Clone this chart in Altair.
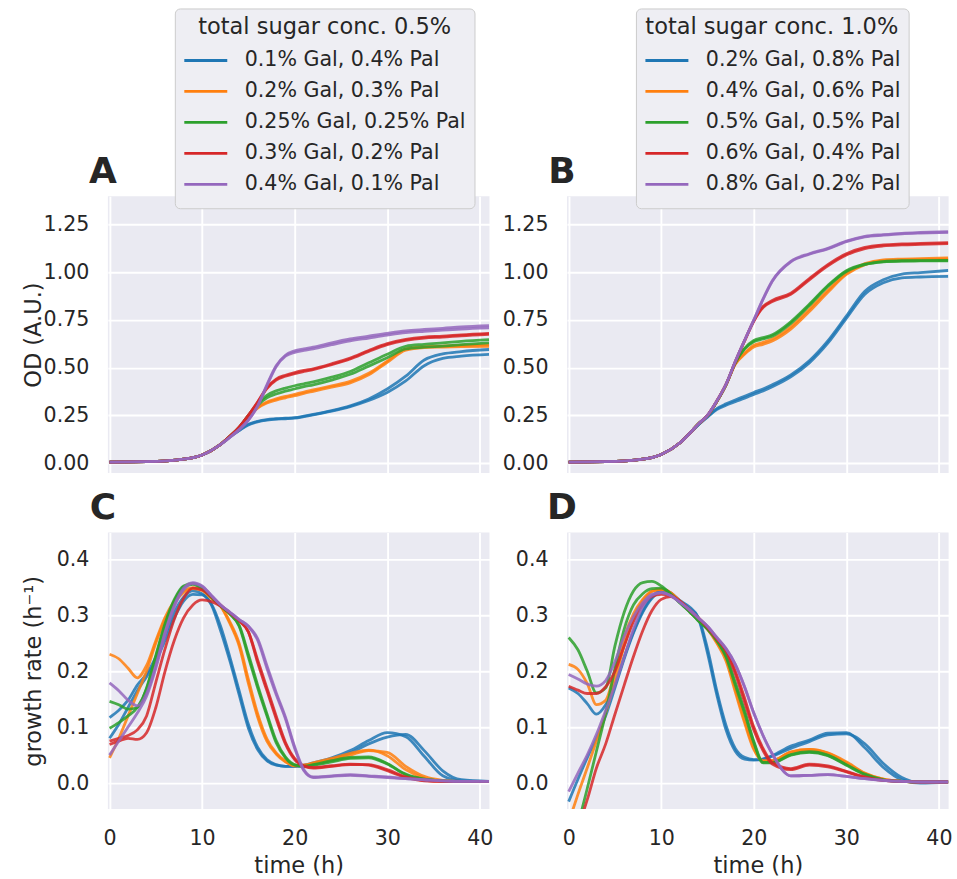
import altair as alt
import pandas as pd

# ---- sampling grids (hours) ----
T_OD = [0, 4, 8, 10, 12, 13, 14, 15, 16, 17, 18, 19, 20, 21, 22, 24, 26, 28, 30, 32, 34, 36, 38, 41]
T_GR = [0, 1, 2, 3, 4, 5, 6, 7, 8, 9, 10, 11, 12, 13, 14, 15, 16, 17, 18, 19, 20, 21, 22,
        24, 26, 28, 30, 32, 34, 36, 38, 41]

LABELS_05 = ["0.1% Gal, 0.4% Pal", "0.2% Gal, 0.3% Pal", "0.25% Gal, 0.25% Pal",
             "0.3% Gal, 0.2% Pal", "0.4% Gal, 0.1% Pal"]
LABELS_10 = ["0.2% Gal, 0.8% Pal", "0.4% Gal, 0.6% Pal", "0.5% Gal, 0.5% Pal",
             "0.6% Gal, 0.4% Pal", "0.8% Gal, 0.2% Pal"]
PALETTE = ["#1f77b4", "#ff7f0e", "#2ca02c", "#d62728", "#9467bd"]

# ---- OD, total sugar 0.5% (two replicates per mixture) ----
od05_a1 = [0.005, 0.007, 0.02, 0.042, 0.098, 0.138, 0.172, 0.203, 0.219, 0.228, 0.232, 0.235, 0.238, 0.246, 0.255, 0.275, 0.3, 0.336, 0.388, 0.455, 0.54, 0.572, 0.584, 0.595]
od05_a2 = [0.005, 0.007, 0.02, 0.042, 0.098, 0.137, 0.17, 0.2, 0.216, 0.225, 0.23, 0.232, 0.235, 0.243, 0.252, 0.272, 0.296, 0.328, 0.37, 0.43, 0.51, 0.548, 0.56, 0.569]
od05_b1 = [0.005, 0.007, 0.02, 0.042, 0.098, 0.14, 0.185, 0.245, 0.292, 0.32, 0.336, 0.349, 0.36, 0.372, 0.383, 0.405, 0.428, 0.47, 0.534, 0.598, 0.61, 0.613, 0.616, 0.62]
od05_b2 = [0.005, 0.007, 0.02, 0.042, 0.098, 0.14, 0.185, 0.243, 0.288, 0.315, 0.33, 0.342, 0.353, 0.365, 0.376, 0.398, 0.42, 0.462, 0.528, 0.592, 0.605, 0.608, 0.61, 0.612]
od05_c1 = [0.005, 0.007, 0.02, 0.042, 0.098, 0.14, 0.186, 0.25, 0.31, 0.355, 0.378, 0.393, 0.405, 0.415, 0.425, 0.45, 0.48, 0.525, 0.57, 0.612, 0.622, 0.63, 0.638, 0.647]
od05_c2 = [0.005, 0.007, 0.02, 0.042, 0.098, 0.14, 0.186, 0.248, 0.303, 0.342, 0.362, 0.377, 0.388, 0.4, 0.41, 0.435, 0.465, 0.508, 0.552, 0.598, 0.607, 0.613, 0.62, 0.63]
od05_d1 = [0.005, 0.007, 0.02, 0.042, 0.098, 0.14, 0.188, 0.25, 0.32, 0.395, 0.44, 0.46, 0.474, 0.485, 0.494, 0.52, 0.55, 0.59, 0.626, 0.648, 0.66, 0.665, 0.672, 0.68]
od05_d2 = [0.005, 0.007, 0.02, 0.042, 0.098, 0.14, 0.188, 0.25, 0.318, 0.39, 0.435, 0.455, 0.469, 0.48, 0.49, 0.515, 0.545, 0.585, 0.621, 0.643, 0.655, 0.66, 0.667, 0.675]
od05_e1 = [0.005, 0.007, 0.02, 0.042, 0.098, 0.135, 0.175, 0.225, 0.3, 0.41, 0.51, 0.565, 0.588, 0.598, 0.607, 0.63, 0.65, 0.665, 0.68, 0.693, 0.7, 0.706, 0.713, 0.72]
od05_e2 = [0.005, 0.007, 0.02, 0.042, 0.098, 0.135, 0.175, 0.225, 0.298, 0.405, 0.505, 0.56, 0.58, 0.59, 0.598, 0.62, 0.64, 0.655, 0.67, 0.683, 0.69, 0.696, 0.702, 0.708]

# ---- OD, total sugar 1.0% ----
od10_a1 = [0.005, 0.007, 0.02, 0.045, 0.105, 0.152, 0.2, 0.243, 0.285, 0.31, 0.33, 0.35, 0.37, 0.388, 0.41, 0.462, 0.536, 0.64, 0.77, 0.9, 0.96, 0.99, 0.998, 1.009]
od10_a2 = [0.005, 0.007, 0.02, 0.045, 0.105, 0.152, 0.2, 0.24, 0.28, 0.303, 0.322, 0.34, 0.36, 0.378, 0.4, 0.452, 0.525, 0.628, 0.758, 0.885, 0.945, 0.97, 0.975, 0.978]
od10_b1 = [0.005, 0.007, 0.02, 0.045, 0.105, 0.152, 0.204, 0.248, 0.322, 0.41, 0.52, 0.575, 0.617, 0.632, 0.65, 0.714, 0.806, 0.905, 0.994, 1.045, 1.065, 1.069, 1.071, 1.075]
od10_b2 = [0.005, 0.007, 0.02, 0.045, 0.105, 0.152, 0.204, 0.248, 0.322, 0.41, 0.518, 0.57, 0.608, 0.622, 0.64, 0.702, 0.794, 0.895, 0.988, 1.04, 1.06, 1.064, 1.066, 1.069]
od10_c1 = [0.005, 0.007, 0.02, 0.045, 0.105, 0.152, 0.204, 0.248, 0.322, 0.41, 0.525, 0.6, 0.642, 0.657, 0.672, 0.74, 0.832, 0.93, 1.008, 1.042, 1.056, 1.06, 1.061, 1.062]
od10_c2 = [0.005, 0.007, 0.02, 0.045, 0.105, 0.152, 0.204, 0.248, 0.322, 0.41, 0.525, 0.598, 0.636, 0.65, 0.665, 0.732, 0.825, 0.925, 1.004, 1.04, 1.054, 1.058, 1.059, 1.06]
od10_d1 = [0.005, 0.007, 0.02, 0.045, 0.105, 0.152, 0.204, 0.25, 0.324, 0.412, 0.53, 0.64, 0.745, 0.82, 0.852, 0.89, 0.967, 1.04, 1.097, 1.13, 1.143, 1.148, 1.151, 1.155]
od10_d2 = [0.005, 0.007, 0.02, 0.045, 0.105, 0.152, 0.204, 0.25, 0.324, 0.412, 0.53, 0.64, 0.743, 0.815, 0.846, 0.884, 0.96, 1.033, 1.09, 1.124, 1.138, 1.143, 1.146, 1.15]
od10_e1 = [0.005, 0.007, 0.02, 0.045, 0.105, 0.152, 0.204, 0.25, 0.325, 0.413, 0.532, 0.642, 0.75, 0.86, 0.955, 1.057, 1.097, 1.125, 1.163, 1.188, 1.197, 1.204, 1.208, 1.212]
od10_e2 = [0.005, 0.007, 0.02, 0.045, 0.105, 0.152, 0.204, 0.25, 0.325, 0.413, 0.532, 0.642, 0.748, 0.857, 0.952, 1.054, 1.094, 1.122, 1.16, 1.185, 1.194, 1.201, 1.205, 1.209]

# ---- growth rate, total sugar 0.5% ----
gr05_a1 = [0.117, 0.13, 0.148, 0.175, 0.195, 0.225, 0.265, 0.305, 0.332, 0.343, 0.338, 0.318, 0.272, 0.218, 0.158, 0.098, 0.06, 0.04, 0.032, 0.03, 0.03, 0.032, 0.036, 0.045, 0.058, 0.076, 0.09, 0.083, 0.048, 0.013, 0.004, 0.003]
gr05_a2 = [0.08, 0.105, 0.135, 0.165, 0.19, 0.218, 0.255, 0.295, 0.325, 0.337, 0.336, 0.32, 0.28, 0.225, 0.165, 0.105, 0.064, 0.042, 0.033, 0.03, 0.03, 0.031, 0.035, 0.042, 0.054, 0.07, 0.082, 0.087, 0.058, 0.022, 0.006, 0.003]
gr05_b1 = [0.23, 0.222, 0.205, 0.188, 0.21, 0.254, 0.296, 0.325, 0.343, 0.349, 0.345, 0.33, 0.316, 0.285, 0.245, 0.178, 0.118, 0.075, 0.052, 0.038, 0.031, 0.032, 0.036, 0.044, 0.053, 0.059, 0.049, 0.024, 0.009, 0.004, 0.003, 0.003]
gr05_b2 = [0.045, 0.08, 0.12, 0.16, 0.2, 0.25, 0.292, 0.322, 0.34, 0.347, 0.344, 0.33, 0.316, 0.288, 0.25, 0.185, 0.124, 0.079, 0.054, 0.039, 0.031, 0.032, 0.035, 0.042, 0.05, 0.058, 0.055, 0.03, 0.012, 0.005, 0.003, 0.003]
gr05_c1 = [0.146, 0.14, 0.132, 0.135, 0.17, 0.228, 0.285, 0.328, 0.352, 0.356, 0.348, 0.332, 0.316, 0.302, 0.28, 0.225, 0.17, 0.12, 0.072, 0.045, 0.032, 0.03, 0.033, 0.04, 0.046, 0.047, 0.035, 0.016, 0.007, 0.004, 0.003, 0.003]
gr05_c2 = [0.098, 0.108, 0.12, 0.135, 0.168, 0.225, 0.282, 0.325, 0.35, 0.355, 0.347, 0.332, 0.316, 0.302, 0.282, 0.23, 0.175, 0.124, 0.076, 0.047, 0.033, 0.03, 0.032, 0.038, 0.044, 0.045, 0.034, 0.015, 0.007, 0.004, 0.003, 0.003]
gr05_d1 = [0.075, 0.08, 0.085, 0.095, 0.12, 0.18, 0.24, 0.293, 0.33, 0.348, 0.345, 0.333, 0.318, 0.304, 0.29, 0.27, 0.215, 0.165, 0.115, 0.07, 0.042, 0.03, 0.027, 0.03, 0.033, 0.033, 0.024, 0.011, 0.005, 0.003, 0.003, 0.003]
gr05_d2 = [0.069, 0.075, 0.08, 0.078, 0.09, 0.135, 0.2, 0.255, 0.295, 0.318, 0.327, 0.324, 0.316, 0.304, 0.29, 0.27, 0.22, 0.17, 0.12, 0.073, 0.044, 0.031, 0.028, 0.031, 0.034, 0.032, 0.022, 0.01, 0.004, 0.003, 0.003, 0.003]
gr05_e1 = [0.179, 0.165, 0.148, 0.138, 0.16, 0.21, 0.27, 0.318, 0.348, 0.358, 0.352, 0.335, 0.318, 0.305, 0.292, 0.28, 0.255, 0.205, 0.158, 0.115, 0.062, 0.022, 0.01, 0.012, 0.014, 0.012, 0.01, 0.008, 0.006, 0.004, 0.003, 0.003]
gr05_e2 = [0.05, 0.075, 0.1, 0.125, 0.155, 0.205, 0.265, 0.315, 0.345, 0.356, 0.351, 0.335, 0.318, 0.305, 0.292, 0.28, 0.258, 0.21, 0.162, 0.118, 0.065, 0.024, 0.011, 0.013, 0.015, 0.013, 0.011, 0.008, 0.006, 0.004, 0.003, 0.003]

# ---- growth rate, total sugar 1.0% ----
gr10_a1 = [0.17, 0.16, 0.142, 0.123, 0.14, 0.175, 0.225, 0.27, 0.307, 0.332, 0.345, 0.34, 0.326, 0.315, 0.295, 0.232, 0.158, 0.095, 0.057, 0.043, 0.041, 0.043, 0.049, 0.066, 0.077, 0.089, 0.09, 0.063, 0.028, 0.006, 0.0, 0.002]
gr10_a2 = [-0.033, 0.007, 0.045, 0.08, 0.12, 0.17, 0.222, 0.268, 0.305, 0.33, 0.342, 0.338, 0.325, 0.312, 0.296, 0.24, 0.165, 0.103, 0.062, 0.046, 0.042, 0.043, 0.048, 0.062, 0.074, 0.086, 0.088, 0.07, 0.035, 0.01, 0.001, 0.003]
gr10_b1 = [0.212, 0.203, 0.178, 0.14, 0.148, 0.2, 0.26, 0.302, 0.328, 0.343, 0.346, 0.34, 0.325, 0.31, 0.292, 0.275, 0.252, 0.222, 0.168, 0.113, 0.063, 0.04, 0.04, 0.056, 0.06, 0.053, 0.036, 0.017, 0.007, 0.003, 0.002, 0.002]
gr10_b2 = [-0.07, -0.02, 0.027, 0.075, 0.125, 0.185, 0.245, 0.295, 0.325, 0.342, 0.346, 0.34, 0.325, 0.31, 0.292, 0.275, 0.25, 0.218, 0.163, 0.108, 0.06, 0.039, 0.04, 0.055, 0.06, 0.054, 0.038, 0.018, 0.007, 0.003, 0.002, 0.002]
gr10_c1 = [0.26, 0.238, 0.2, 0.161, 0.17, 0.245, 0.305, 0.343, 0.358, 0.36, 0.352, 0.338, 0.322, 0.307, 0.29, 0.275, 0.255, 0.228, 0.18, 0.13, 0.075, 0.037, 0.037, 0.051, 0.056, 0.05, 0.033, 0.016, 0.006, 0.003, 0.002, 0.002]
gr10_c2 = [-0.14, -0.075, -0.01, 0.057, 0.125, 0.205, 0.275, 0.318, 0.338, 0.347, 0.348, 0.338, 0.322, 0.307, 0.29, 0.275, 0.254, 0.225, 0.175, 0.125, 0.072, 0.036, 0.036, 0.05, 0.055, 0.049, 0.032, 0.015, 0.006, 0.003, 0.002, 0.002]
gr10_d1 = [0.173, 0.166, 0.16, 0.16, 0.172, 0.2, 0.245, 0.288, 0.318, 0.333, 0.337, 0.335, 0.325, 0.31, 0.295, 0.278, 0.258, 0.238, 0.2, 0.152, 0.1, 0.062, 0.037, 0.026, 0.034, 0.031, 0.021, 0.011, 0.005, 0.003, 0.002, 0.002]
gr10_d2 = [-0.13, -0.08, -0.03, 0.027, 0.07, 0.123, 0.175, 0.226, 0.272, 0.308, 0.328, 0.333, 0.325, 0.31, 0.295, 0.278, 0.258, 0.236, 0.195, 0.145, 0.095, 0.058, 0.034, 0.024, 0.032, 0.029, 0.02, 0.01, 0.005, 0.003, 0.002, 0.002]
gr10_e1 = [0.194, 0.186, 0.177, 0.173, 0.183, 0.217, 0.262, 0.297, 0.322, 0.337, 0.34, 0.335, 0.323, 0.31, 0.295, 0.28, 0.26, 0.24, 0.212, 0.172, 0.125, 0.085, 0.052, 0.013, 0.014, 0.015, 0.012, 0.008, 0.005, 0.003, 0.002, 0.002]
gr10_e2 = [-0.015, 0.018, 0.05, 0.087, 0.13, 0.175, 0.225, 0.275, 0.315, 0.335, 0.34, 0.335, 0.323, 0.31, 0.295, 0.28, 0.26, 0.24, 0.212, 0.172, 0.125, 0.085, 0.052, 0.013, 0.014, 0.015, 0.012, 0.008, 0.005, 0.003, 0.002, 0.002]

OD05 = [(od05_a1, od05_a2), (od05_b1, od05_b2), (od05_c1, od05_c2), (od05_d1, od05_d2), (od05_e1, od05_e2)]
OD10 = [(od10_a1, od10_a2), (od10_b1, od10_b2), (od10_c1, od10_c2), (od10_d1, od10_d2), (od10_e1, od10_e2)]
GR05 = [(gr05_a1, gr05_a2), (gr05_b1, gr05_b2), (gr05_c1, gr05_c2), (gr05_d1, gr05_d2), (gr05_e1, gr05_e2)]
GR10 = [(gr10_a1, gr10_a2), (gr10_b1, gr10_b2), (gr10_c1, gr10_c2), (gr10_d1, gr10_d2), (gr10_e1, gr10_e2)]

W, H = 382, 277
X_DOMAIN = [-0.18, 41.05]
TXT = "#262626"
FONT = "DejaVu Sans"


def long_table(times, labels, curves):
    rows = []
    for label, reps in zip(labels, curves):
        for r, values in enumerate(reps):
            for t, v in zip(times, values):
                rows.append({"time": t, "value": v, "condition": label,
                             "replicate": f"{label} #{r + 1}"})
    return pd.DataFrame(rows)


def panel(df, labels, y_domain, y_values, y_format, letter, bottom_row, y_title,
          legend_title, legend_x=67):
    if legend_title:
        legend = alt.Legend(
            title=legend_title, orient="none", legendX=legend_x, legendY=-188,
            titleAnchor="middle", titleFontSize=22.5, titleFont=FONT,
            titleFontWeight="normal", titleColor=TXT, titlePadding=6.5, titleLimit=600,
            labelFontSize=20.6, labelFont=FONT, labelColor=TXT, labelLimit=600,
            labelOffset=16, symbolType="stroke", symbolSize=1849,
            symbolStrokeWidth=2.8, symbolOpacity=1, rowPadding=0, clipHeight=30.2,
            padding=8, fillColor="#EEEEF3", strokeColor="#CCCCCC",
            cornerRadius=5,
        )
    else:
        legend = None

    x_axis = alt.Axis(values=[0, 10, 20, 30, 40], format="d", labels=bottom_row,
                      labelPadding=19, titlePadding=6, titleFontSize=22.5)
    y_axis_kw = dict(values=y_values, format=y_format, labelPadding=19)
    if y_title:
        y_axis_kw.update(titleX=-62, titleY=H / 2, titleFontSize=22.5)
    y_axis = alt.Axis(**y_axis_kw)

    lines = alt.Chart(df).mark_line(
        interpolate="monotone", strokeWidth=2.8, opacity=0.85, clip=True
    ).encode(
        x=alt.X("time:Q", scale=alt.Scale(domain=X_DOMAIN, nice=False, zero=False),
                axis=x_axis, title="time (h)" if bottom_row else None),
        y=alt.Y("value:Q", scale=alt.Scale(domain=y_domain, nice=False, zero=False),
                axis=y_axis, title=y_title if y_title else None),
        color=alt.Color("condition:N", scale=alt.Scale(domain=labels, range=PALETTE),
                        sort=labels, legend=legend),
        detail="replicate:N",
    )

    tag = alt.Chart(pd.DataFrame({"letter": [letter]})).mark_text(
        font=FONT, fontSize=36, fontWeight="bold", align="center",
        baseline="alphabetic", color=TXT,
    ).encode(text="letter:N", x=alt.value(-5), y=alt.value(-13))

    return alt.layer(lines, tag).properties(width=W, height=H)


OD_DOMAIN = [-0.052, 1.398]
GR_DOMAIN = [-0.0464, 0.4475]
OD_TICKS = [0, 0.25, 0.5, 0.75, 1.0, 1.25]
GR_TICKS = [0, 0.1, 0.2, 0.3, 0.4]

pa = panel(long_table(T_OD, LABELS_05, OD05), LABELS_05, OD_DOMAIN, OD_TICKS, ".2f",
           "A", False, "OD (A.U.)", "total sugar conc. 0.5%", legend_x=67)
pb = panel(long_table(T_OD, LABELS_10, OD10), LABELS_10, OD_DOMAIN, OD_TICKS, ".2f",
           "B", False, "", "total sugar conc. 1.0%", legend_x=69)
pc = panel(long_table(T_GR, LABELS_05, GR05), LABELS_05, GR_DOMAIN, GR_TICKS, ".1f",
           "C", True, "growth rate (h\u207b\u00b9)", "")
pd_ = panel(long_table(T_GR, LABELS_10, GR10), LABELS_10, GR_DOMAIN, GR_TICKS, ".1f",
            "D", True, "", "")

chart = alt.concat(
    pa, pb, pc, pd_, columns=2, spacing={"row": 59.5, "column": 77.6}, bounds="flush"
).resolve_scale(
    color="independent"
).properties(
    padding={"left": 22, "top": 7, "right": 5, "bottom": 5}
).configure(
    font=FONT
).configure_view(
    fill="#EAEAF2", strokeWidth=0
).configure_axis(
    labelFont=FONT, titleFont=FONT, labelFontSize=20.6, titleFontSize=22.5,
    labelColor=TXT, titleColor=TXT, titleFontWeight="normal",
    domain=False, ticks=False, tickSize=0, gridColor="white", gridWidth=1.9,
    gridOpacity=1,
)

chart.save("out.html", embed_options={"renderer": "svg", "actions": False})
